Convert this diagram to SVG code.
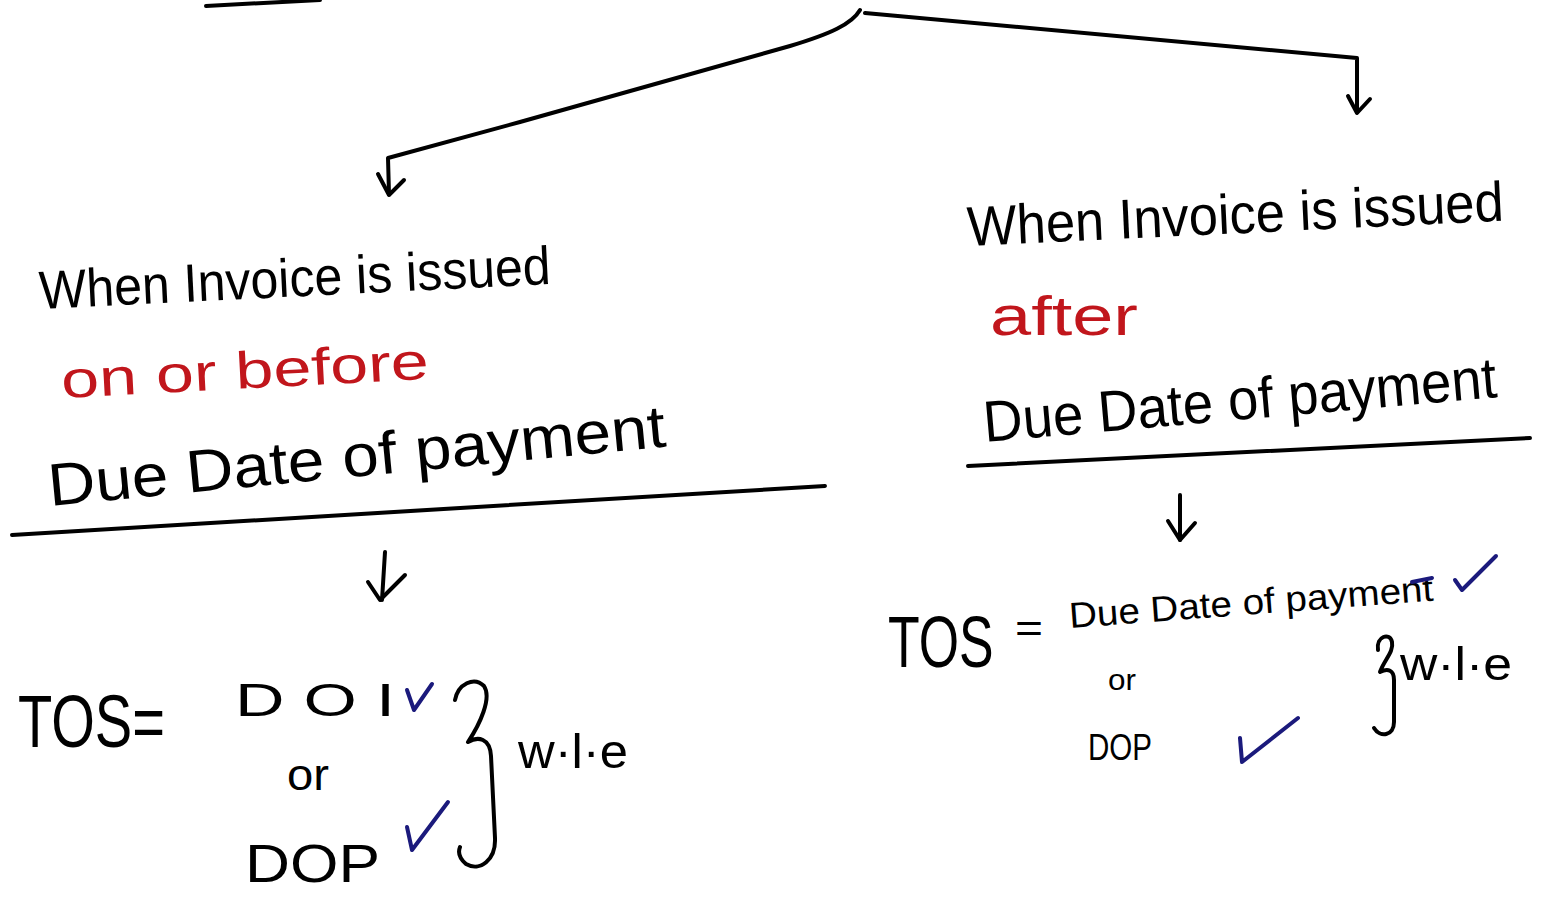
<svg xmlns="http://www.w3.org/2000/svg" width="1543" height="909" viewBox="0 0 1543 909">
<style>
.t{font-family:"Liberation Sans","DejaVu Sans",sans-serif;fill:#000}
.r{fill:#c1161c}
.ln{fill:none;stroke:#000;stroke-width:4;stroke-linecap:round;stroke-linejoin:round}
.ck{fill:none;stroke:#1b1a7c;stroke-width:4;stroke-linecap:round;stroke-linejoin:round}
</style>
<rect width="1543" height="909" fill="#fff"/>
<g id="connectors">
<path class="ln" d="M206,6 L320,0"/>
<path class="ln" d="M860,10 C852,24 830,34 790,46 L520,122 L388,158 L389,194"/>
<path class="ln" d="M378,174 L389,195 L404,180"/>
<path class="ln" d="M865,13 L1357,58 L1357,112"/>
<path class="ln" d="M1348,96 L1357,113 L1370,99"/>
<path class="ln" d="M385,552 L382,600"/>
<path class="ln" d="M368,582 L380,600 L405,575"/>
<path class="ln" d="M1180,495 L1180,540"/>
<path class="ln" d="M1168,521 L1180,540 L1195,523"/>
</g>
<g id="left-branch">
<text class="t" x="40" y="309" font-size="54" textLength="512" lengthAdjust="spacingAndGlyphs" transform="rotate(-2.8 40 309)">When Invoice is issued</text>
<text class="t r" x="62" y="398" font-size="52" textLength="368" lengthAdjust="spacingAndGlyphs" transform="rotate(-3 62 398)">on  or  before</text>
<text class="t" x="50" y="506" font-size="60" textLength="620" lengthAdjust="spacingAndGlyphs" transform="rotate(-5.5 50 506)">Due Date of payment</text>
<path class="ln" d="M12,535 L825,486"/>
</g>
<g id="left-result">
<text class="t" x="18" y="747" font-size="74" textLength="147" lengthAdjust="spacingAndGlyphs">TOS=</text>
<text class="t" x="235" y="716" font-size="46" textLength="160" lengthAdjust="spacingAndGlyphs">D O I</text>
<path class="ck" d="M407,690 L414,710 L432,684"/>
<text class="t" x="287" y="790" font-size="44" textLength="42" lengthAdjust="spacingAndGlyphs">or</text>
<text class="t" x="245" y="882" font-size="54" textLength="135" lengthAdjust="spacingAndGlyphs">DOP</text>
<path class="ck" d="M407,827 L412,850 L448,802"/>
<path class="ln" d="M455,700 C458,684 474,676 484,686 C492,698 480,724 468,742 C478,736 490,738 491,756 L495,838 C496,860 480,872 466,864 C459,858 458,852 460,847"/>
<text class="t" x="518" y="768" font-size="48" textLength="110" lengthAdjust="spacingAndGlyphs">w·l·e</text>
</g>
<g id="right-branch">
<text class="t" x="968" y="246" font-size="56" textLength="537" lengthAdjust="spacingAndGlyphs" transform="rotate(-2.7 968 246)">When Invoice is issued</text>
<text class="t r" x="990" y="335" font-size="56" textLength="148" lengthAdjust="spacingAndGlyphs">after</text>
<text class="t" x="985" y="442" font-size="58" textLength="515" lengthAdjust="spacingAndGlyphs" transform="rotate(-5 985 442)">Due Date of payment</text>
<path class="ln" d="M968,466 L1530,438"/>
</g>
<g id="right-result">
<text class="t" x="0" y="0" font-size="72" transform="translate(888 667) scale(0.72 1)">TOS</text>
<text class="t" x="1015" y="642" font-size="40" textLength="28" lengthAdjust="spacingAndGlyphs">=</text>
<text class="t" x="1070" y="628" font-size="36" textLength="365" lengthAdjust="spacingAndGlyphs" transform="rotate(-4.3 1070 628)">Due Date of payment</text>
<path class="ck" d="M1412,582 L1432,578"/>
<path class="ck" d="M1455,580 L1462,590 L1496,556"/>
<text class="t" x="1108" y="690" font-size="30" textLength="28" lengthAdjust="spacingAndGlyphs">or</text>
<text class="t" x="1088" y="760" font-size="36" textLength="64" lengthAdjust="spacingAndGlyphs">DOP</text>
<path class="ck" d="M1240,738 L1242,762 L1298,718"/>
<path class="ln" d="M1378,650 C1376,636 1390,632 1392,642 C1394,652 1384,660 1380,672 C1388,668 1394,670 1394,680 L1394,722 C1394,736 1380,738 1374,728"/>
<text class="t" x="1400" y="680" font-size="46" textLength="112" lengthAdjust="spacingAndGlyphs">w·l·e</text>
</g>
</svg>
